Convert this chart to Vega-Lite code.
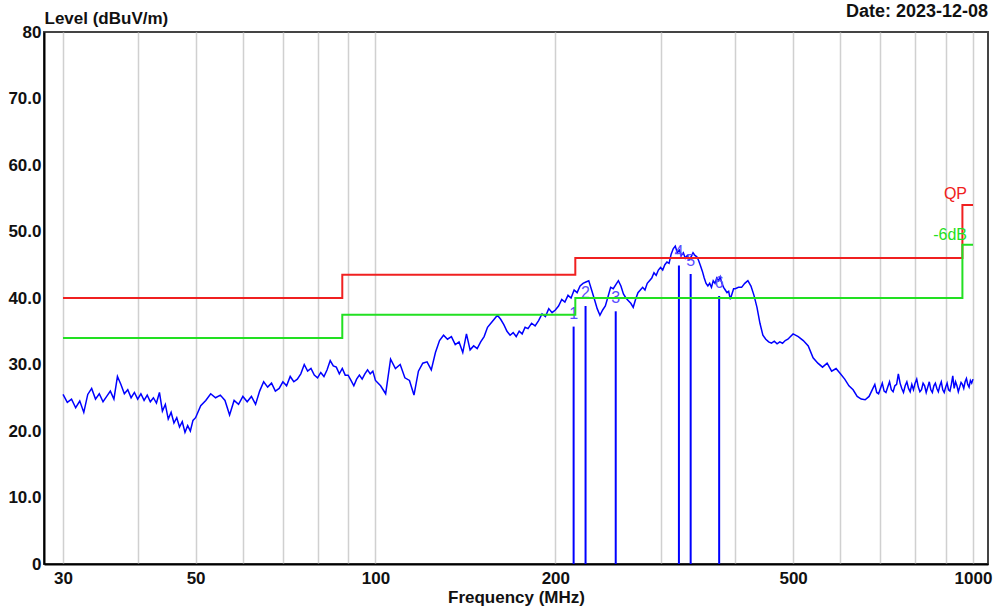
{
  "$schema": "https://vega.github.io/schema/vega-lite/v6.json",
  "width": 944,
  "height": 532,
  "autosize": {"type": "none"},
  "padding": {"left": 44, "top": 32, "right": 10, "bottom": 50},
  "background": "white",
  "config": {
    "view": {"stroke": "#444", "strokeWidth": 2},
    "font": "Liberation Sans"
  },
  "title": {
    "text": "Date: 2023-12-08",
    "anchor": "end",
    "frame": "group",
    "fontSize": 18,
    "fontWeight": "bold",
    "color": "#111",
    "font": "Liberation Sans",
    "offset": -12
  },
  "datasets": {
    "trace": [
      {"freq":30,"level":25.5},{"freq":30.5,"level":24.3},{"freq":31,"level":24.8},{"freq":31.5,"level":23.5},{"freq":32,"level":24.5},{"freq":32.5,"level":22.8},{"freq":33,"level":25.5},{"freq":33.5,"level":26.4},{"freq":34,"level":24.8},{"freq":34.5,"level":25.6},{"freq":35,"level":24.4},{"freq":35.5,"level":25.2},{"freq":36,"level":26.0},{"freq":36.5,"level":24.8},{"freq":37,"level":28.2},{"freq":37.5,"level":27.0},{"freq":38,"level":25.6},{"freq":38.5,"level":26.2},{"freq":39,"level":25.0},{"freq":39.5,"level":25.8},{"freq":40,"level":24.8},{"freq":40.5,"level":25.6},{"freq":41,"level":24.6},{"freq":41.5,"level":25.4},{"freq":42,"level":24.4},{"freq":42.5,"level":25.0},{"freq":43,"level":24.2},{"freq":43.5,"level":25.8},{"freq":44,"level":23.0},{"freq":44.5,"level":24.0},{"freq":45,"level":21.8},{"freq":45.5,"level":22.8},{"freq":46,"level":21.2},{"freq":46.5,"level":22.0},{"freq":47,"level":20.6},{"freq":47.5,"level":21.4},{"freq":48,"level":19.8},{"freq":48.5,"level":20.8},{"freq":49,"level":20.0},{"freq":49.5,"level":21.6},{"freq":50,"level":22.0},{"freq":51,"level":23.8},{"freq":52,"level":24.6},{"freq":53,"level":25.6},{"freq":54,"level":25.0},{"freq":55,"level":25.4},{"freq":56,"level":24.6},{"freq":57,"level":22.4},{"freq":58,"level":24.6},{"freq":59,"level":24.0},{"freq":60,"level":25.2},{"freq":61,"level":24.4},{"freq":62,"level":25.2},{"freq":63,"level":24.0},{"freq":64,"level":26.0},{"freq":65,"level":27.4},{"freq":66,"level":26.6},{"freq":67,"level":27.2},{"freq":68,"level":26.0},{"freq":69,"level":26.4},{"freq":70,"level":27.4},{"freq":71,"level":26.8},{"freq":72,"level":28.2},{"freq":73,"level":27.4},{"freq":74,"level":27.8},{"freq":75,"level":28.6},{"freq":76,"level":30.0},{"freq":77,"level":29.0},{"freq":78,"level":29.4},{"freq":79,"level":28.4},{"freq":80,"level":28.0},{"freq":81,"level":28.8},{"freq":82,"level":28.2},{"freq":83,"level":29.2},{"freq":84,"level":30.6},{"freq":85,"level":29.8},{"freq":86,"level":29.6},{"freq":87,"level":28.6},{"freq":88,"level":29.4},{"freq":89,"level":28.4},{"freq":90,"level":28.4},{"freq":91,"level":27.6},{"freq":92,"level":26.8},{"freq":93,"level":27.8},{"freq":94,"level":28.4},{"freq":95,"level":27.8},{"freq":96,"level":28.6},{"freq":97,"level":29.2},{"freq":98,"level":28.6},{"freq":99,"level":29.0},{"freq":100,"level":27.6},{"freq":102,"level":26.8},{"freq":104,"level":25.6},{"freq":106,"level":30.8},{"freq":108,"level":29.4},{"freq":110,"level":30.0},{"freq":112,"level":28.0},{"freq":114,"level":27.6},{"freq":116,"level":25.4},{"freq":118,"level":29.0},{"freq":120,"level":30.2},{"freq":122,"level":30.4},{"freq":124,"level":29.2},{"freq":126,"level":31.8},{"freq":128,"level":33.6},{"freq":130,"level":34.4},{"freq":132,"level":33.8},{"freq":134,"level":34.2},{"freq":136,"level":33.0},{"freq":138,"level":33.4},{"freq":140,"level":31.8},{"freq":142,"level":34.6},{"freq":144,"level":32.2},{"freq":146,"level":32.8},{"freq":148,"level":32.4},{"freq":150,"level":33.4},{"freq":152,"level":34.2},{"freq":154,"level":35.6},{"freq":156,"level":36.2},{"freq":158,"level":36.8},{"freq":160,"level":37.4},{"freq":162,"level":36.8},{"freq":164,"level":36.0},{"freq":166,"level":35.0},{"freq":168,"level":34.4},{"freq":170,"level":34.8},{"freq":172,"level":34.2},{"freq":174,"level":35.0},{"freq":176,"level":34.6},{"freq":178,"level":35.6},{"freq":180,"level":35.4},{"freq":182.5,"level":36.2},{"freq":185,"level":35.8},{"freq":187.5,"level":36.6},{"freq":190,"level":37.6},{"freq":192.5,"level":37.2},{"freq":195,"level":38.4},{"freq":197.5,"level":37.8},{"freq":200,"level":38.2},{"freq":202.5,"level":38.8},{"freq":205,"level":39.8},{"freq":207.5,"level":39.4},{"freq":210,"level":40.4},{"freq":212.5,"level":40.0},{"freq":215,"level":41.2},{"freq":217.5,"level":40.8},{"freq":220,"level":41.8},{"freq":222.5,"level":42.2},{"freq":225,"level":42.4},{"freq":227.5,"level":42.6},{"freq":230,"level":41.2},{"freq":232.5,"level":39.8},{"freq":235,"level":38.4},{"freq":237.5,"level":37.4},{"freq":240,"level":38.2},{"freq":242.5,"level":38.8},{"freq":245,"level":40.2},{"freq":247.5,"level":41.6},
      {"freq":250,"level":41.4},{"freq":252.5,"level":42.0},{"freq":255,"level":42.6},{"freq":257.5,"level":41.8},{"freq":260,"level":40.6},{"freq":262.5,"level":40.0},{"freq":265,"level":39.6},{"freq":267.5,"level":39.2},{"freq":270,"level":38.6},{"freq":272.5,"level":39.8},{"freq":275,"level":40.8},{"freq":277.5,"level":41.2},{"freq":280,"level":41.6},{"freq":282.5,"level":41.2},{"freq":285,"level":42.2},{"freq":287.5,"level":42.6},{"freq":290,"level":43.0},{"freq":292.5,"level":43.8},{"freq":295,"level":43.4},{"freq":297.5,"level":44.2},{"freq":300,"level":44.6},{"freq":302.5,"level":44.2},{"freq":305,"level":45.0},{"freq":307.5,"level":45.4},{"freq":310,"level":45.2},{"freq":312.5,"level":46.6},{"freq":315,"level":47.4},{"freq":317.5,"level":47.8},{"freq":320,"level":46.8},{"freq":322.5,"level":47.2},{"freq":325,"level":46.4},{"freq":327.5,"level":46.8},{"freq":330,"level":46.0},{"freq":332.5,"level":46.4},{"freq":335,"level":45.8},{"freq":337.5,"level":46.2},{"freq":340,"level":46.8},{"freq":342.5,"level":46.4},{"freq":345,"level":46.2},{"freq":347.5,"level":45.6},{"freq":350,"level":44.8},{"freq":352.5,"level":44.0},{"freq":355,"level":43.0},{"freq":357.5,"level":42.2},{"freq":360,"level":41.8},{"freq":362.5,"level":42.2},{"freq":365,"level":41.6},{"freq":367.5,"level":42.6},{"freq":370,"level":42.2},{"freq":372.5,"level":43.0},{"freq":375,"level":42.6},{"freq":377.5,"level":43.2},{"freq":380,"level":42.2},{"freq":382.5,"level":41.6},{"freq":385,"level":41.2},{"freq":387.5,"level":40.8},{"freq":390,"level":41.0},{"freq":392.5,"level":39.8},{"freq":395,"level":40.6},{"freq":397.5,"level":41.4},{"freq":400,"level":41.4},{"freq":405,"level":41.6},{"freq":410,"level":41.6},{"freq":415,"level":42.2},{"freq":420,"level":42.6},{"freq":425,"level":41.8},{"freq":430,"level":40.4},{"freq":435,"level":38.6},{"freq":440,"level":36.2},{"freq":445,"level":34.4},{"freq":450,"level":33.8},{"freq":455,"level":33.4},{"freq":460,"level":33.2},{"freq":465,"level":33.5},{"freq":470,"level":33.1},{"freq":475,"level":33.4},{"freq":480,"level":33.2},{"freq":485,"level":33.6},{"freq":490,"level":33.8},{"freq":495,"level":34.2},{"freq":500,"level":34.6},
      {"freq":510,"level":34.2},{"freq":520,"level":33.6},{"freq":530,"level":32.8},{"freq":540,"level":31.0},{"freq":550,"level":30.2},{"freq":560,"level":29.6},{"freq":570,"level":30.2},{"freq":580,"level":29.0},{"freq":590,"level":29.4},{"freq":600,"level":28.6},{"freq":610,"level":27.8},{"freq":620,"level":26.8},{"freq":630,"level":26.2},{"freq":640,"level":25.2},{"freq":650,"level":24.8},{"freq":660,"level":24.7},{"freq":670,"level":25.2},{"freq":680,"level":26.4},{"freq":685,"level":27.0},{"freq":690,"level":25.8},{"freq":695,"level":25.6},{"freq":700,"level":26.4},{"freq":705,"level":27.2},{"freq":710,"level":26.0},{"freq":715,"level":25.8},{"freq":720,"level":26.6},{"freq":725,"level":27.4},{"freq":730,"level":26.2},{"freq":735,"level":25.9},{"freq":740,"level":26.8},{"freq":745,"level":27.0},{"freq":750,"level":28.6},{"freq":755,"level":27.2},{"freq":760,"level":26.4},{"freq":765,"level":25.8},{"freq":770,"level":26.8},{"freq":775,"level":27.4},{"freq":780,"level":26.4},{"freq":785,"level":25.9},{"freq":790,"level":27.0},{"freq":795,"level":26.2},{"freq":800,"level":27.2},{"freq":805,"level":27.8},{"freq":810,"level":26.6},{"freq":815,"level":25.9},{"freq":820,"level":26.2},{"freq":825,"level":27.2},{"freq":830,"level":26.8},{"freq":835,"level":25.8},{"freq":840,"level":26.6},{"freq":845,"level":27.4},{"freq":850,"level":26.2},{"freq":855,"level":25.8},{"freq":860,"level":26.8},{"freq":865,"level":27.2},{"freq":870,"level":26.4},{"freq":875,"level":25.9},{"freq":880,"level":26.8},{"freq":885,"level":27.4},{"freq":890,"level":26.2},{"freq":895,"level":25.8},{"freq":900,"level":26.6},{"freq":905,"level":27.2},{"freq":910,"level":26.2},{"freq":915,"level":26.0},{"freq":920,"level":27.0},{"freq":925,"level":28.3},{"freq":930,"level":26.4},{"freq":935,"level":27.4},{"freq":940,"level":26.8},{"freq":945,"level":25.9},{"freq":950,"level":26.6},{"freq":955,"level":27.3},{"freq":960,"level":27.0},{"freq":965,"level":26.4},{"freq":970,"level":27.4},{"freq":975,"level":27.9},{"freq":980,"level":27.0},{"freq":985,"level":26.6},{"freq":990,"level":27.6},{"freq":995,"level":27.2},{"freq":1000,"level":27.8}
    ],
    "qp": [
      {"freq":30,"level":40},{"freq":88,"level":43.5},{"freq":216,"level":46},{"freq":960,"level":54},{"freq":1000,"level":54}
    ],
    "margin": [
      {"freq":30,"level":34},{"freq":88,"level":37.5},{"freq":216,"level":40},{"freq":960,"level":48},{"freq":1000,"level":48}
    ],
    "markers": [
      {"freq":214.6,"level":35.7,"label":"1"},
      {"freq":224.7,"level":38.8,"label":"2"},
      {"freq":252.4,"level":38.0,"label":"3"},
      {"freq":322,"level":44.9,"label":"4"},
      {"freq":336.9,"level":43.6,"label":"5"},
      {"freq":376,"level":40.3,"label":"6"}
    ],
    "hgrid": [
      {"level":10},{"level":20},{"level":30},{"level":40},{"level":50},{"level":60},{"level":70}
    ],
    "limitLabels": [
      {"freq":1000,"level":54,"label":"QP"},
      {"freq":1000,"level":48,"label":"-6dB"}
    ]
  },
  "encoding": {
    "x": {
      "field": "freq",
      "type": "quantitative",
      "scale": {"type": "log", "domain": [27.88, 1059.5], "nice": false},
      "axis": {
        "values": [30,40,50,60,70,80,90,100,200,300,400,500,600,700,800,900,1000],
        "labelExpr": "indexof([30,50,100,200,500,1000], datum.value) >= 0 ? toString(datum.value) : ''",
        "grid": true,
        "gridColor": "#d0d0d0",
        "gridWidth": 1.5,
        "ticks": false,
        "domainColor": "#000",
        "domainWidth": 2,
        "labelFont": "Liberation Sans",
        "labelFontSize": 17,
        "labelFontWeight": "bold",
        "labelColor": "#111",
        "labelPadding": 6,
        "labelFlush": false,
        "labelOverlap": false,
        "title": "Frequency (MHz)",
        "titleFont": "Liberation Sans",
        "titleFontSize": 17,
        "titleFontWeight": "bold",
        "titleColor": "#111",
        "titlePadding": 3
      }
    },
    "y": {
      "field": "level",
      "type": "quantitative",
      "scale": {"domain": [0, 80], "nice": false},
      "axis": {
        "values": [0,10,20,30,40,50,60,70,80],
        "labelExpr": "datum.value == 0 || datum.value == 80 ? toString(datum.value) : format(datum.value, '.1f')",
        "grid": false,
        "ticks": false,
        "domainColor": "#000",
        "domainWidth": 2,
        "labelFont": "Liberation Sans",
        "labelFontSize": 17,
        "labelFontWeight": "bold",
        "labelColor": "#111",
        "labelPadding": 3,
        "labelFlush": false,
        "labelOverlap": false,
        "title": "Level (dBuV/m)",
        "titleFont": "Liberation Sans",
        "titleFontSize": 17,
        "titleFontWeight": "bold",
        "titleColor": "#111",
        "titleAngle": 0,
        "titleAlign": "left",
        "titleBaseline": "bottom",
        "titleX": 0,
        "titleY": -5
      }
    }
  },
  "layer": [
    {
      "data": {"name": "hgrid"},
      "mark": {"type": "rule", "color": "#d0d0d0", "strokeWidth": 1.5},
      "encoding": {
        "x": {"datum": 30},
        "x2": {"datum": 1000}
      }
    },
    {
      "data": {"name": "trace"},
      "mark": {"type": "line", "color": "#0000ff", "strokeWidth": 1.5}
    },
    {
      "data": {"name": "markers"},
      "mark": {"type": "rule", "color": "#0000ff", "strokeWidth": 2},
      "encoding": {
        "y2": {"datum": 0}
      }
    },
    {
      "data": {"name": "markers"},
      "mark": {"type": "text", "color": "#5a4cff", "fontSize": 16, "font": "Liberation Sans", "dy": -13, "baseline": "middle", "align": "center"},
      "encoding": {"text": {"field": "label"}}
    },
    {
      "data": {"name": "qp"},
      "mark": {"type": "line", "color": "#f02020", "strokeWidth": 2, "interpolate": "step-after"}
    },
    {
      "data": {"name": "margin"},
      "mark": {"type": "line", "color": "#22e022", "strokeWidth": 2, "interpolate": "step-after"}
    },
    {
      "data": {"name": "limitLabels"},
      "transform": [{"filter": "datum.label == 'QP'"}],
      "mark": {"type": "text", "color": "#f02020", "fontSize": 16, "font": "Liberation Sans", "align": "right", "baseline": "middle", "dx": -6, "dy": -11},
      "encoding": {"text": {"field": "label"}}
    },
    {
      "data": {"name": "limitLabels"},
      "transform": [{"filter": "datum.label == '-6dB'"}],
      "mark": {"type": "text", "color": "#22e022", "fontSize": 16, "font": "Liberation Sans", "align": "right", "baseline": "middle", "dx": -6, "dy": -10},
      "encoding": {"text": {"field": "label"}}
    }
  ]
}
